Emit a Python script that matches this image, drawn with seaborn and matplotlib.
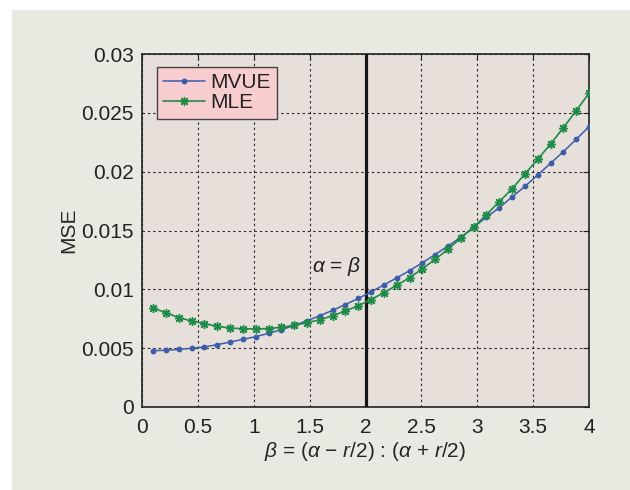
import pandas as pd
import seaborn as sns
import matplotlib.pyplot as plt
from matplotlib.patches import Rectangle

# valores
beta = [0.100, 0.215, 0.329, 0.444, 0.559, 0.674, 0.788, 0.903, 1.018, 1.132,
        1.247, 1.362, 1.476, 1.591, 1.706, 1.821, 1.935, 2.050, 2.165, 2.279,
        2.394, 2.509, 2.624, 2.738, 2.853, 2.968, 3.082, 3.197, 3.312, 3.426,
        3.541, 3.656, 3.771, 3.885, 4.000]

mse_mvue = [0.00479, 0.00482, 0.00490, 0.00499, 0.00510, 0.00530, 0.00552, 0.00575, 0.00598, 0.00626,
            0.00657, 0.00693, 0.00733, 0.00776, 0.00822, 0.00871, 0.00923, 0.00978, 0.01038, 0.01097,
            0.01159, 0.01226, 0.01296, 0.01368, 0.01442, 0.01528, 0.01612, 0.01694, 0.01785, 0.01875,
            0.01972, 0.02071, 0.02170, 0.02275, 0.02382]

mse_mle = [0.00839, 0.00802, 0.00759, 0.00731, 0.00708, 0.00686, 0.00671, 0.00665, 0.00663, 0.00667,
           0.00677, 0.00694, 0.00717, 0.00741, 0.00776, 0.00816, 0.00860, 0.00913, 0.00972, 0.01034,
           0.01099, 0.01175, 0.01255, 0.01340, 0.01436, 0.01530, 0.01635, 0.01745, 0.01855, 0.01980,
           0.02105, 0.02235, 0.02374, 0.02518, 0.02666]

x_ticks = [0, 0.5, 1, 1.5, 2, 2.5, 3, 3.5, 4]
x_tick_labels = ['0', '0.5', '1', '1.5', '2', '2.5', '3', '3.5', '4']
y_ticks = [0, 0.005, 0.01, 0.015, 0.02, 0.025, 0.03]
y_tick_labels = ['0', '0.005', '0.01', '0.015', '0.02', '0.025', '0.03']

df = pd.DataFrame({
    'beta': beta + beta,
    'MSE': mse_mvue + mse_mle,
    'estimador': ['MVUE'] * len(beta) + ['MLE'] * len(beta),
})

sns.set_theme(style='white')
plt.rcParams['font.family'] = ['Liberation Sans', 'DejaVu Sans']
plt.rcParams['mathtext.fontset'] = 'custom'
plt.rcParams['mathtext.rm'] = 'Liberation Sans'
plt.rcParams['mathtext.it'] = 'Liberation Sans:italic'
plt.rcParams['text.color'] = '#222222'

fs = 15

fig = plt.figure(figsize=(6.3, 4.9), dpi=100, facecolor='white')
# painel de fundo bege com margem branca à esquerda e no topo
fig.patches.append(Rectangle((12 / 630, 0), 1, 1 - 10 / 490, transform=fig.transFigure,
                             facecolor='#e8eae1', edgecolor='none', zorder=-10))

ax = fig.add_axes([142 / 630, 1 - 407 / 490, 447 / 630, 353 / 490])
ax.set_facecolor('#e7dfda')

azul = '#3d5dab'
verde = '#1e8c48'

sns.lineplot(data=df[df['estimador'] == 'MVUE'], x='beta', y='MSE', ax=ax,
             color=azul, linewidth=1.1, marker='o', markersize=4.2,
             markeredgecolor=azul, markeredgewidth=0, label='MVUE', errorbar=None, zorder=4)
sns.lineplot(data=df[df['estimador'] == 'MLE'], x='beta', y='MSE', ax=ax,
             color=verde, linewidth=1.2, marker=(8, 2, 0), markersize=6.5,
             markeredgecolor=verde, markeredgewidth=1.0, label='MLE', errorbar=None, zorder=4)

ax.axvline(2, color='#151515', linewidth=2.3, zorder=3)
ax.text(1.965, 0.0119, r'$\alpha$ = $\beta$', ha='right', va='center', fontsize=fs)

ax.set_xlim(0, 4)
ax.set_ylim(0, 0.03)
ax.set_xticks(x_ticks)
ax.set_xticklabels(x_tick_labels)
ax.set_yticks(y_ticks)
ax.set_yticklabels(y_tick_labels)
ax.tick_params(direction='in', length=4, width=0.8, top=True, right=True,
               labelsize=fs, pad=6, colors='#222222')
ax.tick_params(axis='x', pad=8)

ax.set_axisbelow(True)
ax.grid(True, linestyle=(0, (2.2, 2.6)), color='#2a2a2a', linewidth=0.8)
for s in ax.spines.values():
    s.set_color('#222222')
    s.set_linewidth(1.2)

ax.set_xlabel(r'$\beta$ = ($\alpha$ − $r$/2) : ($\alpha$ + $r$/2)', fontsize=fs, labelpad=2)
ax.set_ylabel('MSE', fontsize=fs, labelpad=2)

leg = ax.legend(loc='upper left', bbox_to_anchor=(0.034, 0.963), borderaxespad=0,
                fontsize=fs, frameon=True, fancybox=False, facecolor='#f8cdd0',
                edgecolor='#444444', framealpha=1, handlelength=2.0, handletextpad=0.25,
                labelspacing=0.05, borderpad=0.3)
leg.get_frame().set_linewidth(1.0)

plt.savefig('out.png', dpi=100, facecolor=fig.get_facecolor())
